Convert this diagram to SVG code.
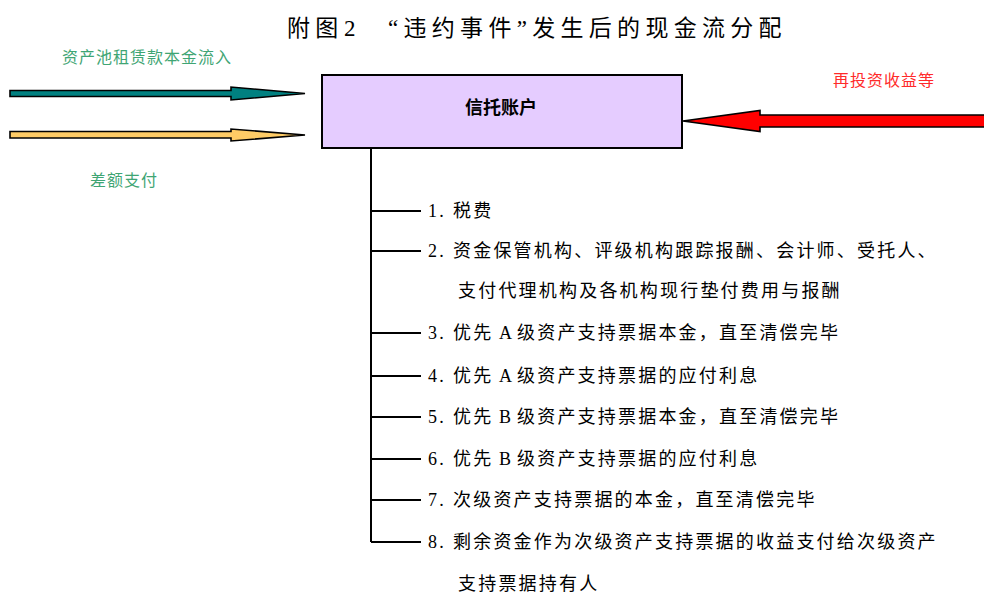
<svg xmlns="http://www.w3.org/2000/svg" width="984" height="595" viewBox="0 0 984 595">
<style>
.title{font-family:"Liberation Serif","Noto Sans CJK SC",serif;font-size:23px;letter-spacing:5.3px;fill:#000}
.item{font-family:"Liberation Serif","Noto Sans CJK SC",serif;font-size:18px;letter-spacing:2.2px;fill:#000}
.lbl{font-family:"Noto Sans CJK SC",sans-serif;font-size:16px;letter-spacing:1px}
.green{fill:#3FA574}
.red{fill:#FF2A2A}
.arrow{stroke:#000;stroke-width:1.6;stroke-linejoin:miter}
.tree{stroke:#000;stroke-width:2;fill:none}
</style>
<rect width="984" height="595" fill="#fff"/>
<g id="title">
<text class="title" y="36"><tspan x="287">附图</tspan><tspan x="344">2</tspan><tspan x="388">“违约事件”发生后的现金流分配</tspan></text>
</g>
<g id="trust-account">
<rect x="322" y="75" width="360" height="73" fill="#E5CCFF" stroke="#000" stroke-width="2"/>
<text x="501" y="114" text-anchor="middle" font-family="Noto Sans CJK SC,sans-serif" font-size="18" font-weight="bold">信托账户</text>
</g>
<g id="labels">
<text class="lbl green" x="62" y="63">资产池租赁款本金流入</text>
<text class="lbl green" x="90" y="186">差额支付</text>
<text class="lbl red" x="833" y="86">再投资收益等</text>
</g>
<g id="connectors">
<polygon class="arrow" fill="#008080" points="10,90.5 231,90.5 231,87 305,93.5 231,100 231,96.5 10,96.5"/>
<polygon class="arrow" fill="#FFCC66" points="10,131.5 231,131.5 231,129 305,135 231,141 231,138 10,138"/>
<polygon class="arrow" fill="#FF0000" points="990,115 760,115 760,110.5 683,121 760,131.5 760,127 990,127"/>
<path class="tree" d="M371,148 V542 M371,211 H421 M371,251 H421 M371,333 H421 M371,376 H421 M371,417 H421 M371,459 H421 M371,500 H421 M371,542 H421"/>
</g>
<g id="items">
<g id="item1"><text class="item" y="217"><tspan x="428">1.</tspan><tspan x="453">税费</tspan></text></g>
<g id="item2"><text class="item" y="257"><tspan x="428">2.</tspan><tspan x="453">资金保管机构、评级机构跟踪报酬、会计师、受托人、</tspan></text>
<text class="item" x="458" y="297">支付代理机构及各机构现行垫付费用与报酬</text></g>
<g id="item3"><text class="item" y="339"><tspan x="428">3.</tspan><tspan x="453">优先</tspan><tspan x="499">A</tspan><tspan x="517">级资产支持票据本金，直至清偿完毕</tspan></text></g>
<g id="item4"><text class="item" y="382"><tspan x="428">4.</tspan><tspan x="453">优先</tspan><tspan x="499">A</tspan><tspan x="517">级资产支持票据的应付利息</tspan></text></g>
<g id="item5"><text class="item" y="423"><tspan x="428">5.</tspan><tspan x="453">优先</tspan><tspan x="499">B</tspan><tspan x="517">级资产支持票据本金，直至清偿完毕</tspan></text></g>
<g id="item6"><text class="item" y="465"><tspan x="428">6.</tspan><tspan x="453">优先</tspan><tspan x="499">B</tspan><tspan x="517">级资产支持票据的应付利息</tspan></text></g>
<g id="item7"><text class="item" y="506"><tspan x="428">7.</tspan><tspan x="453">次级资产支持票据的本金，直至清偿完毕</tspan></text></g>
<g id="item8"><text class="item" y="548"><tspan x="428">8.</tspan><tspan x="453">剩余资金作为次级资产支持票据的收益支付给次级资产</tspan></text>
<text class="item" x="458" y="590">支持票据持有人</text></g>
</g>
</svg>
